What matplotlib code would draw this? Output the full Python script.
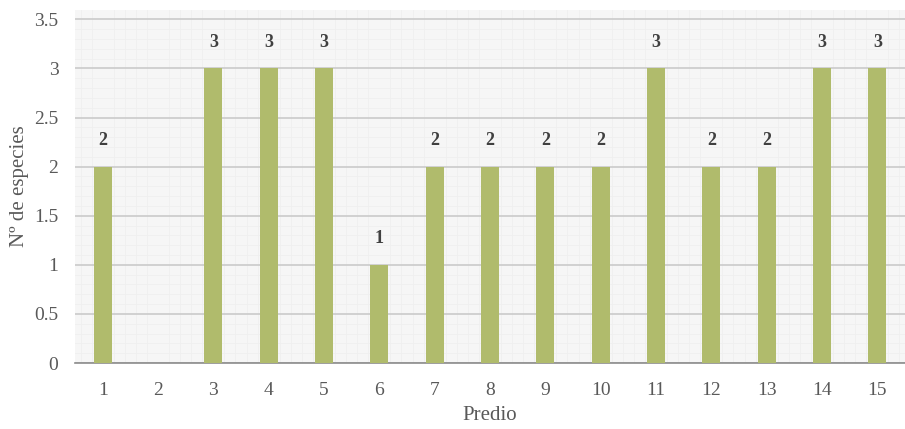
import numpy as np
import matplotlib.pyplot as plt
from matplotlib.ticker import MultipleLocator

plt.rcParams['font.family'] = ['Liberation Serif', 'DejaVu Serif']

predios = [str(i) for i in range(1, 16)]
especies = [2, 0, 3, 3, 3, 1, 2, 2, 2, 2, 3, 2, 2, 3, 3]

fig = plt.figure(figsize=(9.05, 4.29), dpi=100)
ax = fig.add_axes([75/905, 1 - 363/429, 1 - 75/905, 353/429])

x = np.arange(1, len(especies) + 1)
ax.set_facecolor('#f6f6f6')
ax.bar(x, especies, width=0.33, color='#b0bb6c', zorder=3)

for xi, v in zip(x, especies):
    if v > 0:
        ax.text(xi, v + 0.18, str(v), ha='center', va='bottom',
                fontsize=13, fontweight='bold', color='#404040', zorder=4)

ax.set_xlim(0.5, 15.5)
ax.set_ylim(0, 3.595)
ax.set_xticks(x)
ax.set_xticklabels(predios)
ax.set_yticks(np.arange(0, 3.51, 0.5))
ax.set_yticklabels(['0', '0.5', '1', '1.5', '2', '2.5', '3', '3.5'])
ax.yaxis.set_minor_locator(MultipleLocator(0.1))
ax.xaxis.set_minor_locator(MultipleLocator(0.2))

ax.grid(axis='y', which='major', color='#d0d0d0', linewidth=1.4, zorder=1)
ax.grid(which='minor', color='#efefef', linewidth=0.6, zorder=0)
ax.tick_params(which='both', length=0)
ax.tick_params(axis='both', labelsize=14, labelcolor='#595959')
ax.tick_params(axis='x', pad=14)
ax.tick_params(axis='y', pad=12)

for s in ['top', 'right', 'left']:
    ax.spines[s].set_visible(False)
ax.spines['bottom'].set_color('#8c8c8c')
ax.spines['bottom'].set_linewidth(1.2)

ax.set_xlabel('Predio', fontsize=15, color='#595959', labelpad=5)
ax.set_ylabel('Nº de especies', fontsize=15, color='#595959', labelpad=4)

fig.savefig('out.png', dpi=100)
